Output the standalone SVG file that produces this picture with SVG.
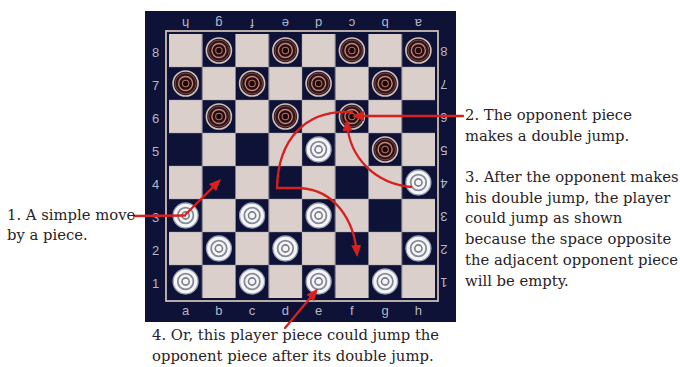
<svg xmlns="http://www.w3.org/2000/svg" xmlns:xlink="http://www.w3.org/1999/xlink" width="680" height="367" viewBox="0 0 680 367">
<style>
.lbl{font-family:"Liberation Sans",Arial,sans-serif;font-size:13px;fill:#b3b7c8;text-anchor:middle}
.txt{font-family:"DejaVu Serif","Liberation Serif",serif;font-size:14.8px;fill:#2a2226}
.arw{fill:none;stroke:#d8201f;stroke-width:2.3;stroke-linecap:round;stroke-linejoin:miter}
</style>
<defs>
<pattern id="chk" x="169" y="34" width="66.5" height="66" patternUnits="userSpaceOnUse">
<rect width="66.5" height="66" fill="#dacfca"/>
<rect x="33.25" y="0" width="33.25" height="33" fill="#0e1237"/>
<rect x="0" y="33" width="33.25" height="33" fill="#0e1237"/>
</pattern>
<marker id="ah" viewBox="0 0 12 10" refX="9" refY="5" markerWidth="12" markerHeight="10" markerUnits="userSpaceOnUse" orient="auto">
<path d="M0,0 L12,5 L0,10 z" fill="#d8201f"/>
</marker>
<g id="opp">
<circle r="12.5" fill="#34121a" stroke="#cfc2ba" stroke-width="1.6"/>
<circle r="10.4" fill="none" stroke="#7a5858" stroke-width="0.8"/>
<circle r="7" fill="#2a0a10" stroke="#b98a74" stroke-width="1.4"/>
<circle r="3.2" fill="#1c060a" stroke="#a87460" stroke-width="1.1"/>
</g>
<g id="ply">
<circle r="12.5" fill="#f5f5f7" stroke="#9aa0b2" stroke-width="1.3"/>
<circle r="7.8" fill="none" stroke="#858a96" stroke-width="1.8"/>
<circle r="3.6" fill="none" stroke="#7a7e8a" stroke-width="1.6"/>
</g>
</defs>
<rect width="680" height="367" fill="#ffffff"/>
<g id="board">
<rect x="145" y="11" width="311" height="311" fill="#0e1237"/>
<rect x="166" y="31" width="272" height="270" fill="none" stroke="#cbbdb1" stroke-width="1.8"/>
<rect x="169" y="34" width="266" height="264" fill="url(#chk)"/>
<path d="M202.25,34V298M235.5,34V298M268.75,34V298M302,34V298M335.25,34V298M368.5,34V298M401.75,34V298M169,67H435M169,100H435M169,133H435M169,166H435M169,199H435M169,232H435M169,265H435" stroke="#9d97a6" stroke-width="0.7" opacity="0.6" fill="none"/>
</g>
<g id="coords">
<text class="lbl" x="155.5" y="56.5">8</text>
<text class="lbl" x="155.5" y="89.5">7</text>
<text class="lbl" x="155.5" y="122.5">6</text>
<text class="lbl" x="155.5" y="155.5">5</text>
<text class="lbl" x="155.5" y="188.5">4</text>
<text class="lbl" x="155.5" y="221.5">3</text>
<text class="lbl" x="155.5" y="254.5">2</text>
<text class="lbl" x="155.5" y="287.5">1</text>
<text class="lbl" transform="translate(444,47) rotate(180)">8</text>
<text class="lbl" transform="translate(444,80) rotate(180)">7</text>
<text class="lbl" transform="translate(444,113) rotate(180)">6</text>
<text class="lbl" transform="translate(444,146) rotate(180)">5</text>
<text class="lbl" transform="translate(444,179) rotate(180)">4</text>
<text class="lbl" transform="translate(444,212) rotate(180)">3</text>
<text class="lbl" transform="translate(444,245) rotate(180)">2</text>
<text class="lbl" transform="translate(444,278) rotate(180)">1</text>
<text class="lbl" x="185.6" y="315">a</text>
<text class="lbl" x="218.9" y="315">b</text>
<text class="lbl" x="252.1" y="315">c</text>
<text class="lbl" x="285.4" y="315">d</text>
<text class="lbl" x="318.6" y="315">e</text>
<text class="lbl" x="351.9" y="315">f</text>
<text class="lbl" x="385.1" y="315">g</text>
<text class="lbl" x="418.4" y="315">h</text>
<text class="lbl" transform="translate(185.6,18.5) rotate(180)">h</text>
<text class="lbl" transform="translate(218.9,18.5) rotate(180)">g</text>
<text class="lbl" transform="translate(252.1,18.5) rotate(180)">f</text>
<text class="lbl" transform="translate(285.4,18.5) rotate(180)">e</text>
<text class="lbl" transform="translate(318.6,18.5) rotate(180)">d</text>
<text class="lbl" transform="translate(351.9,18.5) rotate(180)">c</text>
<text class="lbl" transform="translate(385.1,18.5) rotate(180)">b</text>
<text class="lbl" transform="translate(418.4,18.5) rotate(180)">a</text>
</g>
<g id="pieces">
<g id="b8"><use xlink:href="#opp" x="218.9" y="50.5"/></g>
<g id="d8"><use xlink:href="#opp" x="285.4" y="50.5"/></g>
<g id="f8"><use xlink:href="#opp" x="351.9" y="50.5"/></g>
<g id="h8"><use xlink:href="#opp" x="418.4" y="50.5"/></g>
<g id="a7"><use xlink:href="#opp" x="185.6" y="83.5"/></g>
<g id="c7"><use xlink:href="#opp" x="252.1" y="83.5"/></g>
<g id="e7"><use xlink:href="#opp" x="318.6" y="83.5"/></g>
<g id="g7"><use xlink:href="#opp" x="385.1" y="83.5"/></g>
<g id="b6"><use xlink:href="#opp" x="218.9" y="116.5"/></g>
<g id="d6"><use xlink:href="#opp" x="285.4" y="116.5"/></g>
<g id="f6"><use xlink:href="#opp" x="351.9" y="116.5"/></g>
<g id="g5"><use xlink:href="#opp" x="385.1" y="149.5"/></g>
<g id="e5"><use xlink:href="#ply" x="318.6" y="149.5"/></g>
<g id="h4"><use xlink:href="#ply" x="418.4" y="182.5"/></g>
<g id="a3"><use xlink:href="#ply" x="185.6" y="215.5"/></g>
<g id="c3"><use xlink:href="#ply" x="252.1" y="215.5"/></g>
<g id="e3"><use xlink:href="#ply" x="318.6" y="215.5"/></g>
<g id="b2"><use xlink:href="#ply" x="218.9" y="248.5"/></g>
<g id="d2"><use xlink:href="#ply" x="285.4" y="248.5"/></g>
<g id="h2"><use xlink:href="#ply" x="418.4" y="248.5"/></g>
<g id="a1"><use xlink:href="#ply" x="185.6" y="281.5"/></g>
<g id="c1"><use xlink:href="#ply" x="252.1" y="281.5"/></g>
<g id="e1"><use xlink:href="#ply" x="318.6" y="281.5"/></g>
<g id="g1"><use xlink:href="#ply" x="385.1" y="281.5"/></g>
</g>
<g id="connectors">
<path class="arw" d="M134,216 L185,215.5"/>
<path class="arw" d="M186,214 L218.9,181.2" marker-end="url(#ah)"/>
<path class="arw" d="M463,116 L355,116" marker-end="url(#ah)"/>
<path class="arw" d="M411,187 C378,184 349,160 347,122" marker-end="url(#ah)"/>
<path class="arw" d="M352,112 C305,109 278,140 277,188 L300,188 C335,190 354,220 357,254" marker-end="url(#ah)"/>
<path class="arw" d="M285,328 L316,291" marker-end="url(#ah)"/>
</g>
<g id="label1">
<text class="txt" x="7" y="219.5">1. A simple move</text>
<text class="txt" x="7" y="240">by a piece.</text>
</g>
<g id="label2">
<text class="txt" x="465" y="120">2. The opponent piece</text>
<text class="txt" x="465" y="140.5">makes a double jump.</text>
</g>
<g id="label3">
<text class="txt" x="465" y="182">3. After the opponent makes</text>
<text class="txt" x="465" y="202.7">his double jump, the player</text>
<text class="txt" x="465" y="223.4">could jump as shown</text>
<text class="txt" x="465" y="244.1">because the space opposite</text>
<text class="txt" x="465" y="264.8">the adjacent opponent piece</text>
<text class="txt" x="465" y="285.5">will be empty.</text>
</g>
<g id="label4">
<text class="txt" x="152" y="340">4. Or, this player piece could jump the</text>
<text class="txt" x="152" y="360.5">opponent piece after its double jump.</text>
</g>
</svg>
